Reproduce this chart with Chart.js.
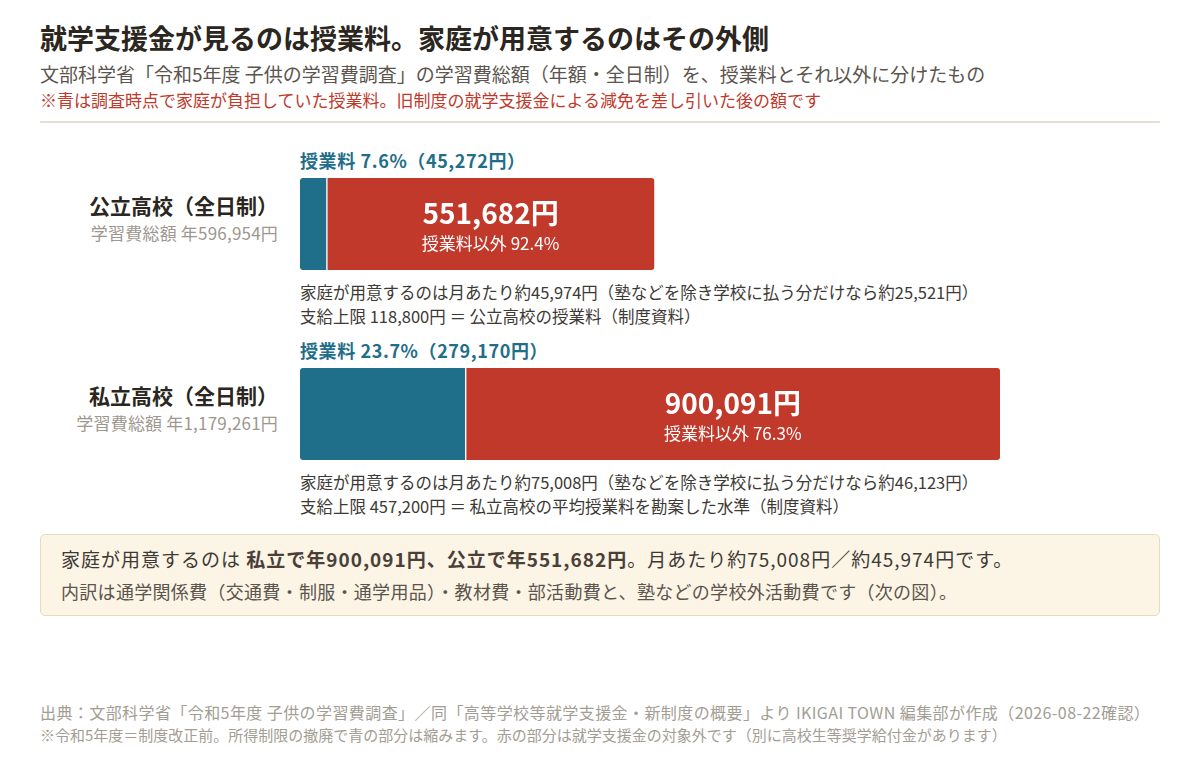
<!DOCTYPE html>
<html lang="ja">
<head>
<meta charset="utf-8">
<script src="https://cdn.jsdelivr.net/npm/chart.js@4"></script>
<style>
  html, body { margin: 0; padding: 0; background: #fff; }
  body { width: 1200px; height: 760px; position: relative; overflow: hidden;
         font-family: "Noto Sans CJK JP", "Noto Sans", sans-serif; color: #2b2620; }
  .abs { position: absolute; white-space: nowrap; line-height: 1; }
  h1 { position: absolute; left: 40px; top: 23.5px; margin: 0; line-height: 1; font-size: 27px; font-weight: 700; color: #2b2620; }
  .sub { left: 40px; top: 63.5px; font-size: 19px; color: #5b554e; }
  .warn { left: 40px; top: 91px; font-size: 17px; color: #c0392b; }
  .rule { position: absolute; left: 40px; top: 121px; width: 1120px; height: 2px; background: #e3dfd3; }
  .row-name { right: 922px; text-align: right; font-size: 21px; font-weight: 700; color: #2b2620; }
  .row-total { right: 922px; text-align: right; font-size: 17px; color: #9d978f; letter-spacing: 0.2px; }
  .tuition { left: 300px; font-size: 18px; font-weight: 700; color: #1f6e8a; letter-spacing: 0.6px; }
  .note { left: 300px; font-size: 16.5px; color: #3d3a35; line-height: 24px; }
  .chartbox { position: absolute; left: 300px; width: 700px; height: 92px; }
  .summary { position: absolute; left: 40px; top: 534px; width: 1120px; height: 82px; background: #fcf4e5;
             border: 1.5px solid #e6dbbd; border-radius: 5px; box-sizing: border-box; }
  .summary .l1 { position: absolute; left: 20px; top: 14px; line-height: 1; font-size: 19px; color: #3d3a35; white-space: nowrap; letter-spacing: 1px; }
  .summary .l1 b { color: #4a4038; }
  .summary .l2 { position: absolute; left: 20px; top: 46.5px; line-height: 1; font-size: 18px; color: #5b554e; white-space: nowrap; letter-spacing: 0.3px; }
  .foot { left: 40px; color: #a39d94; }
</style>
</head>
<body>
<h1>就学支援金が見るのは授業料。家庭が用意するのはその外側</h1>
<div class="abs sub">文部科学省「令和5年度 子供の学習費調査」の学習費総額（年額・全日制）を、授業料とそれ以外に分けたもの</div>
<div class="abs warn">※青は調査時点で家庭が負担していた授業料。旧制度の就学支援金による減免を差し引いた後の額です</div>
<div class="rule"></div>

<div id="rows"></div>

<div class="summary">
  <div class="l1">家庭が用意するのは <b>私立で年900,091円、公立で年551,682円</b>。月あたり約75,008円／約45,974円です。</div>
  <div class="l2">内訳は通学関係費（交通費・制服・通学用品）・教材費・部活動費と、塾などの学校外活動費です（次の図）。</div>
</div>

<div class="abs foot" style="top:704px;font-size:16px;letter-spacing:0.42px">出典：文部科学省「令和5年度 子供の学習費調査」／同「高等学校等就学支援金・新制度の概要」より IKIGAI TOWN 編集部が作成（2026-08-22確認）</div>
<div class="abs foot" style="top:726.5px;font-size:15px">※令和5年度＝制度改正前。所得制限の撤廃で青の部分は縮みます。赤の部分は就学支援金の対象外です（別に高校生等奨学給付金があります）</div>

<script>
// データ（令和5年度 子供の学習費調査）
const schools = ['公立高校（全日制）', '私立高校（全日制）'];
const tuitionYen = [45272, 279170];          // 授業料（青）
const otherYen = [551682, 900091];           // 授業料以外（赤）
const totalYen = [596954, 1179261];          // 学習費総額
const tuitionPct = [7.6, 23.7];
const otherPct = [92.4, 76.3];
const monthlyYen = [45974, 75008];
const monthlySchoolYen = [25521, 46123];
const capNotes = ['支給上限 118,800円 ＝ 公立高校の授業料（制度資料）',
                  '支給上限 457,200円 ＝ 私立高校の平均授業料を勘案した水準（制度資料）'];

const BLUE = '#1f6e8a';
const RED = '#c0392b';
const fmt = v => v.toLocaleString('ja-JP');
const maxTotal = Math.max(...totalYen);

// 行ごとの上端位置
const rowTop = [178, 368];

const rows = document.getElementById('rows');

// 赤い部分の中に金額を書くプラグイン
const innerLabel = {
  id: 'innerLabel',
  afterDatasetsDraw(chart) {
    const i = chart.config.options.rowIndex;
    const bar = chart.getDatasetMeta(1).data[0];
    const ctx = chart.ctx;
    const cx = (bar.base + bar.x) / 2;
    const cy = bar.y;
    ctx.save();
    ctx.fillStyle = '#fff';
    ctx.textAlign = 'center';
    ctx.textBaseline = 'middle';
    ctx.font = '700 28px "Noto Sans CJK JP", sans-serif';
    ctx.fillText(fmt(otherYen[i]) + '円', cx, cy - 11);
    ctx.font = '400 17px "Noto Sans CJK JP", sans-serif';
    ctx.fillText('授業料以外 ' + otherPct[i] + '%', cx, cy + 20);
    ctx.restore();
  }
};

schools.forEach((name, i) => {
  const top = rowTop[i];
  rows.insertAdjacentHTML('beforeend',
    `<div class="abs row-name" style="top:${top + 16.5}px">${name}</div>` +
    `<div class="abs row-total" style="top:${top + 45.5}px">学習費総額 年${fmt(totalYen[i])}円</div>` +
    `<div class="abs tuition" style="top:${top - 27}px">授業料 ${tuitionPct[i]}%（${fmt(tuitionYen[i])}円）</div>` +
    `<div class="chartbox" style="top:${top}px"><canvas id="c${i}"></canvas></div>` +
    `<div class="abs note" style="top:${top + 102}px">家庭が用意するのは月あたり約${fmt(monthlyYen[i])}円（塾などを除き学校に払う分だけなら約${fmt(monthlySchoolYen[i])}円）<br>${capNotes[i]}</div>`
  );

  new Chart(document.getElementById('c' + i), {
    type: 'bar',
    data: {
      labels: [name],
      datasets: [
        {
          label: '授業料',
          data: [tuitionYen[i]],
          backgroundColor: BLUE,
          borderColor: '#fff',
          borderWidth: { top: 0, bottom: 0, left: 0, right: 1 },
          borderSkipped: false,
          borderRadius: { topLeft: 3, bottomLeft: 3, topRight: 0, bottomRight: 0 }
        },
        {
          label: '授業料以外',
          data: [otherYen[i]],
          backgroundColor: RED,
          borderColor: '#fff',
          borderWidth: { top: 0, bottom: 0, left: 1, right: 0 },
          borderSkipped: false,
          borderRadius: { topLeft: 0, bottomLeft: 0, topRight: 3, bottomRight: 3 }
        }
      ]
    },
    options: {
      rowIndex: i,
      indexAxis: 'y',
      responsive: true,
      maintainAspectRatio: false,
      animation: false,
      layout: { padding: 0 },
      datasets: { bar: { barPercentage: 1, categoryPercentage: 1 } },
      scales: {
        x: { stacked: true, min: 0, max: maxTotal, display: false },
        y: { stacked: true, display: false }
      },
      plugins: { legend: { display: false }, tooltip: { enabled: false } }
    },
    plugins: [innerLabel]
  });
});
</script>
</body>
</html>
